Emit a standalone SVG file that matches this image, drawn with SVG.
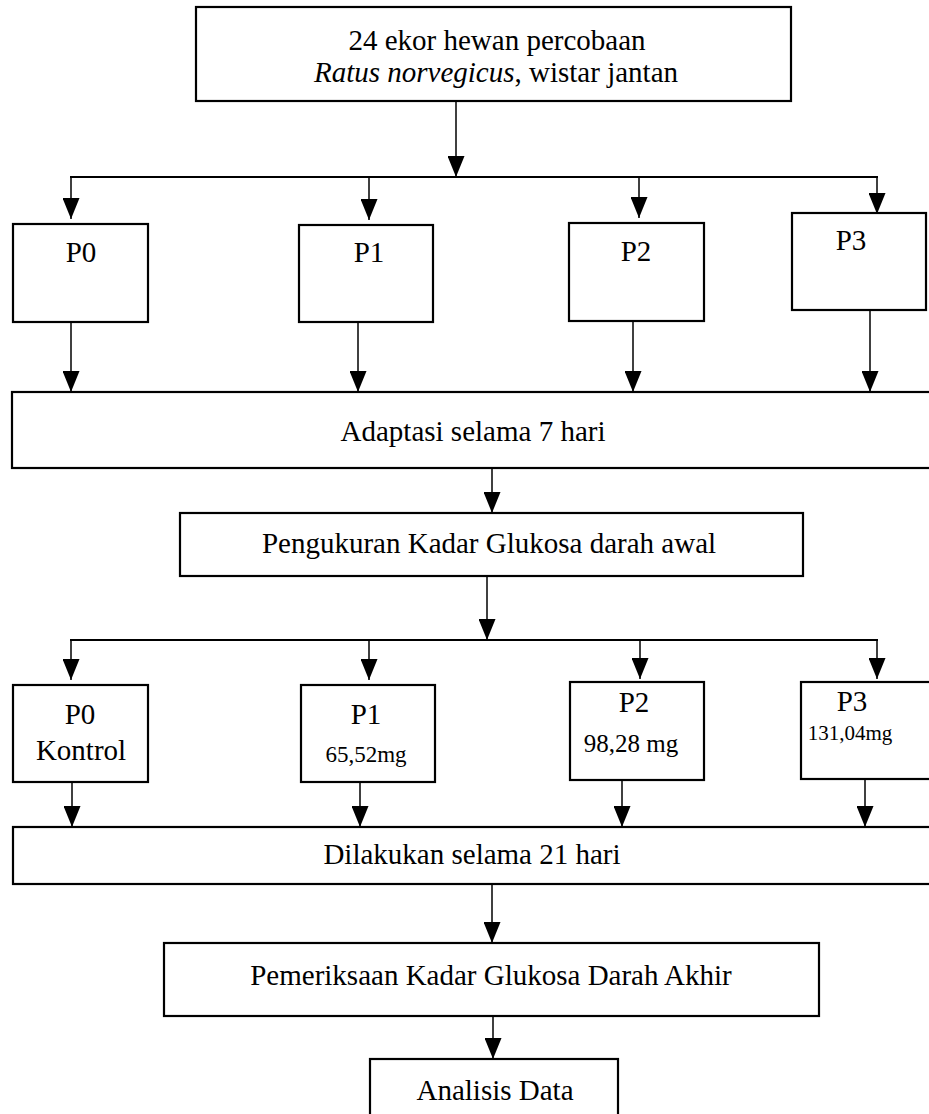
<svg xmlns="http://www.w3.org/2000/svg" width="929" height="1114" viewBox="0 0 929 1114">
<defs>
<marker id="ah" markerUnits="userSpaceOnUse" markerWidth="21" markerHeight="17" viewBox="0 0 21 17" refX="21" refY="8.5" orient="auto">
<path d="M0,0 L21,8.5 L0,17 Z" fill="#000"/>
</marker>
</defs>
<style>
.box{fill:#fff;stroke:#000;stroke-width:2.2}
.t{font-family:"Liberation Serif","Times New Roman",serif;font-size:29px;fill:#000;text-anchor:middle}
.t.m1{font-size:23px}
.t.m2{font-size:25px}
.t.m3{font-size:21px}
.c line{stroke:#000;stroke-width:1.5;fill:none}
.c .h{stroke-width:2.2}
.c .a{marker-end:url(#ah)}
</style>
<rect width="929" height="1114" fill="#fff"/>
<g class="c" id="connectors">
<line class="a" x1="456" y1="101" x2="456" y2="177"/>
<line class="h" x1="70" y1="177" x2="878" y2="177"/>
<line class="a" x1="71" y1="177" x2="71" y2="219"/>
<line class="a" x1="369" y1="177" x2="369" y2="220"/>
<line class="a" x1="639" y1="177" x2="639" y2="218"/>
<line class="a" x1="877" y1="177" x2="877" y2="214"/>
<line class="a" x1="71" y1="322" x2="71" y2="392"/>
<line class="a" x1="358" y1="322" x2="358" y2="392"/>
<line class="a" x1="633" y1="321" x2="633" y2="392"/>
<line class="a" x1="870" y1="310" x2="870" y2="392"/>
<line class="a" x1="492" y1="468" x2="492" y2="513"/>
<line class="a" x1="487" y1="565" x2="487" y2="640"/>
<line class="h" x1="70" y1="640" x2="878" y2="640"/>
<line class="a" x1="71" y1="640" x2="71" y2="680"/>
<line class="a" x1="369" y1="640" x2="369" y2="680"/>
<line class="a" x1="640" y1="640" x2="640" y2="679"/>
<line class="a" x1="877" y1="640" x2="877" y2="679"/>
<line class="a" x1="72" y1="782" x2="72" y2="827"/>
<line class="a" x1="360" y1="782" x2="360" y2="827"/>
<line class="a" x1="622" y1="780" x2="622" y2="827"/>
<line class="a" x1="865" y1="779" x2="865" y2="827"/>
<line class="a" x1="492" y1="884" x2="492" y2="943"/>
<line class="a" x1="493" y1="1016" x2="493" y2="1059"/>
</g>
<g id="start">
<rect class="box" x="196" y="7" width="595" height="94"/>
<text class="t" x="497" y="50">24 ekor hewan percobaan</text>
<text class="t" x="496" y="82"><tspan font-style="italic">Ratus norvegicus</tspan>, wistar jantan</text>
</g>
<g id="p0a"><rect class="box" x="13" y="224" width="135" height="98"/><text class="t" x="81" y="262">P0</text></g>
<g id="p1a"><rect class="box" x="299" y="225" width="134" height="97"/><text class="t" x="369" y="262">P1</text></g>
<g id="p2a"><rect class="box" x="569" y="223" width="135" height="98"/><text class="t" x="636" y="261">P2</text></g>
<g id="p3a"><rect class="box" x="792" y="213" width="134" height="97"/><text class="t" x="851" y="250">P3</text></g>
<g id="adaptasi"><rect class="box" x="12" y="392" width="925" height="76"/><text class="t" x="473" y="441">Adaptasi selama 7 hari</text></g>
<g id="pengukuran"><rect class="box" x="180" y="513" width="623" height="63"/><text class="t" x="489" y="553">Pengukuran Kadar Glukosa darah awal</text></g>
<g id="p0b"><rect class="box" x="13" y="685" width="135" height="97"/><text class="t" x="80" y="724">P0</text><text class="t" x="81" y="760">Kontrol</text></g>
<g id="p1b"><rect class="box" x="301" y="685" width="134" height="97"/><text class="t" x="366" y="724">P1</text><text class="t m1" x="366" y="762">65,52mg</text></g>
<g id="p2b"><rect class="box" x="570" y="682" width="134" height="98"/><text class="t" x="634" y="712">P2</text><text class="t m2" x="631" y="752">98,28 mg</text></g>
<g id="p3b"><rect class="box" x="801" y="682" width="134" height="97"/><text class="t" x="852" y="711">P3</text><text class="t m3" x="850" y="740">131,04mg</text></g>
<g id="dilakukan"><rect class="box" x="13" y="827" width="925" height="57"/><text class="t" x="472" y="864">Dilakukan selama 21 hari</text></g>
<g id="pemeriksaan"><rect class="box" x="164" y="943" width="655" height="73"/><text class="t" x="491" y="985">Pemeriksaan Kadar Glukosa Darah Akhir</text></g>
<g id="analisis"><rect class="box" x="370" y="1059" width="248" height="70"/><text class="t" x="495" y="1100">Analisis Data</text></g>
</svg>
